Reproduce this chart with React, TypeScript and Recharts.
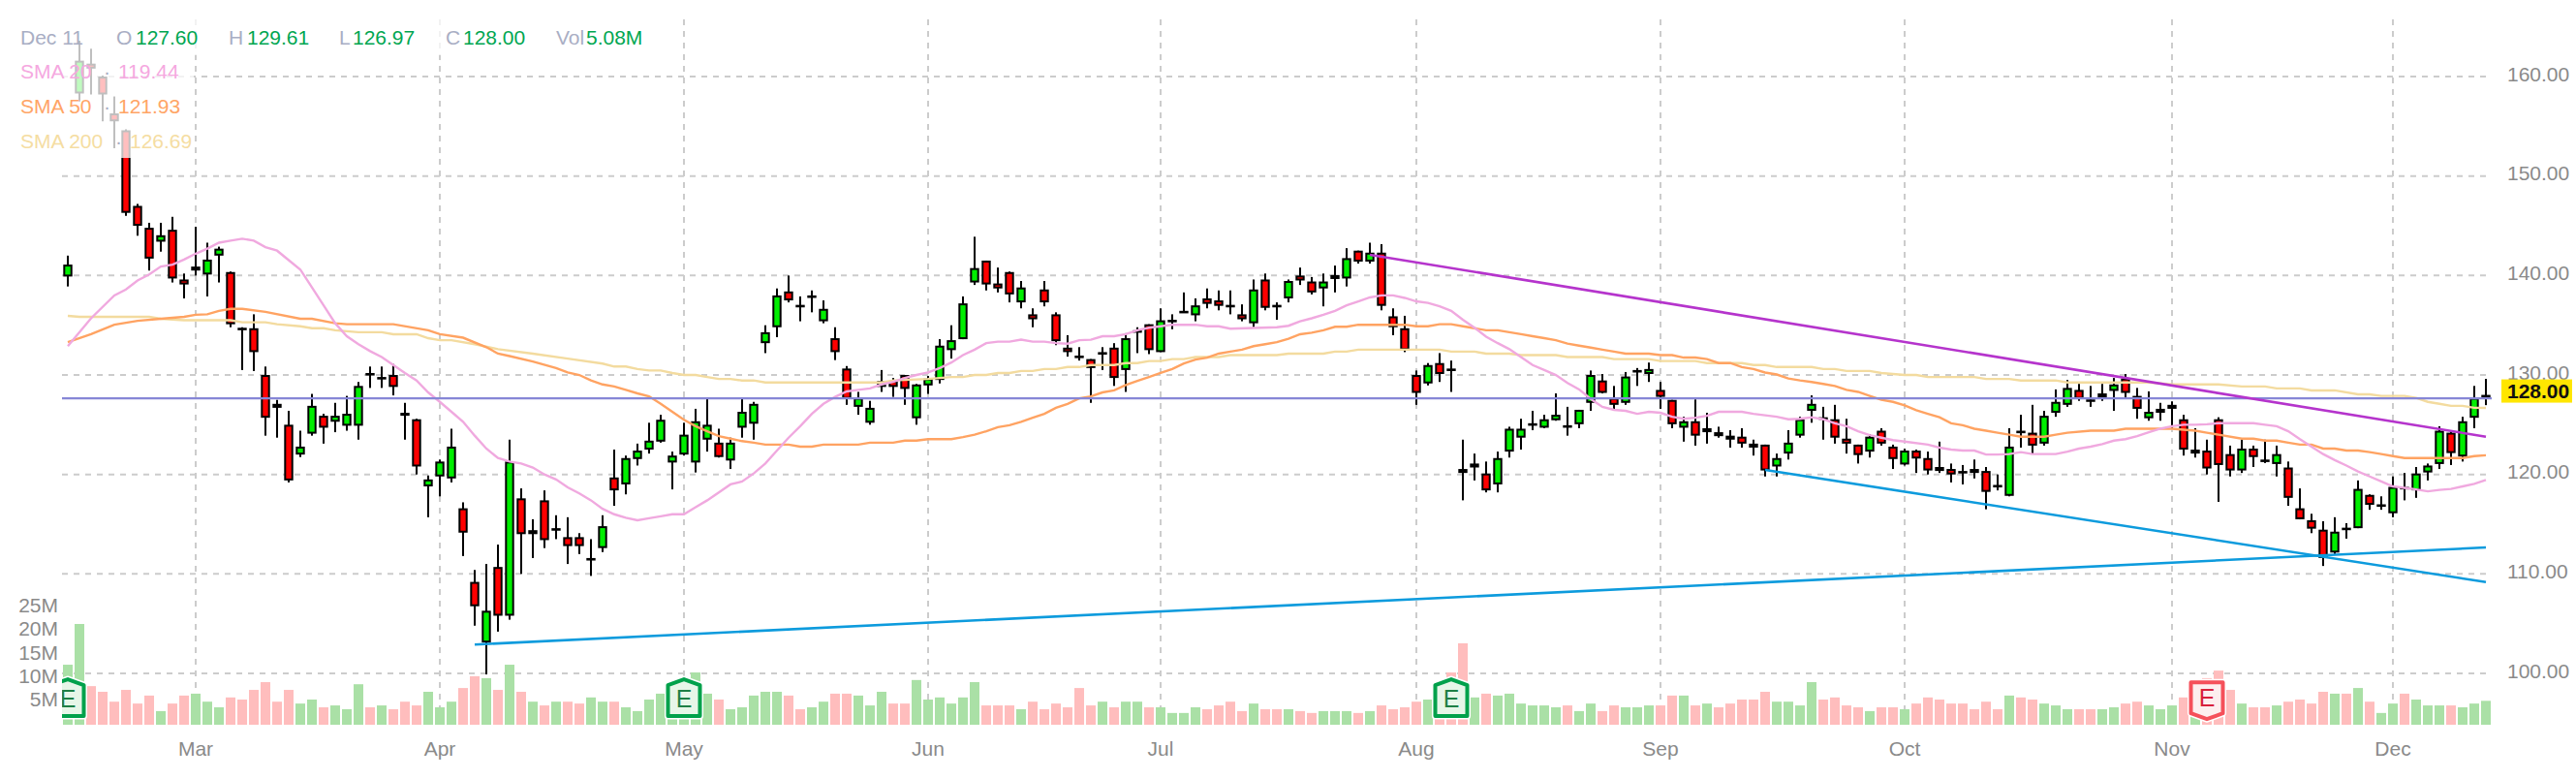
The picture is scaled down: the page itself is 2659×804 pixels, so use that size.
import React from "react";
import { ComposedChart, Bar, Line, XAxis, YAxis, CartesianGrid, ReferenceLine, ReferenceDot } from "recharts";

const open = [139.9,158.3,161.3,160.0,156.3,154.6,147.0,144.8,143.4,144.6,
139.6,140.5,140.1,142.0,140.35,134.75,134.7,130.0,127.1,125.0,
122.0,124.1,125.9,125.3,124.9,124.9,130.2,129.7,130.0,126.2,
125.55,118.8,119.8,119.6,116.6,109.2,103.1,110.7,105.8,117.6,
114.0,117.4,114.4,113.7,113.7,111.4,112.6,119.7,119.0,121.55,
122.5,123.3,121.2,122.0,121.2,123.5,123.2,121.4,124.7,125.1,
133.2,134.8,138.4,137.05,137.8,135.4,133.7,130.65,126.8,125.2,
128.8,129.4,130.0,125.65,128.95,129.5,132.5,133.6,139.3,141.5,
139.2,140.35,137.3,136.1,138.6,136.1,132.75,131.95,131.6,132.1,
132.75,130.5,134.3,135.1,132.3,135.45,136.35,136.0,137.7,137.5,
137.05,136.1,135.2,139.6,137.05,137.7,140.0,139.4,138.7,139.65,
139.7,142.5,141.4,142.3,135.9,134.7,130.0,129.15,131.2,130.65,
120.55,120.7,120.1,119.0,122.3,123.7,125.05,124.7,125.45,124.95,
125.05,127.2,129.45,127.7,127.2,130.4,130.1,128.5,127.5,124.7,
125.35,124.25,124.25,123.9,123.8,123.1,123.0,120.8,122.1,123.9,
126.4,125.75,125.55,123.6,123.0,122.3,124.4,122.8,121.0,122.4,
121.65,120.75,120.55,120.35,120.55,120.35,118.95,117.85,124.4,124.2,
123.1,126.2,127.0,128.5,127.55,127.75,128.4,129.65,127.9,125.65,
126.2,126.6,125.55,122.1,122.4,125.55,122.05,120.4,122.6,121.5,
121.05,120.7,116.6,115.4,114.45,112.15,114.65,114.6,117.95,116.9,
116.1,118.75,118.4,120.2,121.05,124.2,121.8,125.7,127.8];

const close = [141.1,161.6,160.8,158.2,155.5,146.3,145.0,141.7,144.05,139.7,
139.1,140.9,141.6,142.7,135.1,134.65,132.3,125.7,126.7,119.4,
122.8,126.9,124.7,125.9,126.1,128.9,130.0,129.8,128.8,125.9,
120.8,119.5,121.3,122.8,114.15,106.75,106.3,105.8,121.3,114.0,
114.4,113.4,114.6,112.8,112.8,111.6,114.8,118.4,121.65,122.4,
123.4,125.5,121.9,124.0,125.35,125.0,121.75,123.2,126.3,127.1,
134.3,138.0,137.5,136.95,138.0,136.65,132.3,127.6,127.7,126.7,
129.4,128.8,128.6,129.05,129.65,132.95,133.5,137.2,140.75,139.1,
138.7,138.1,138.8,135.6,137.3,133.4,132.3,131.85,130.7,132.3,
129.7,133.7,134.5,132.5,135.5,135.55,136.45,137.0,137.15,136.95,
136.95,135.6,138.6,136.75,136.95,139.45,139.5,138.3,139.4,140.05,
141.75,141.4,142.3,136.95,134.8,132.5,128.2,131.0,130.1,130.55,
120.15,121.1,118.4,121.65,124.6,124.6,125.15,125.55,126.0,124.85,
126.5,130.0,128.2,127.0,129.85,130.5,130.6,127.8,125.05,125.35,
123.9,124.65,123.85,123.5,123.1,122.7,120.4,121.65,123.2,125.55,
127.1,125.65,123.7,123.1,121.95,123.8,123.1,121.55,122.4,121.6,
120.4,120.35,120.0,120.25,120.15,118.25,118.85,122.8,124.3,122.9,
125.9,127.3,128.7,127.6,127.45,128.15,129.05,128.2,126.6,126.3,
126.6,127.0,122.5,122.5,120.6,120.95,120.4,122.6,121.75,121.4,
122.05,117.65,115.5,114.55,111.6,114.25,114.55,118.55,116.95,117.0,
118.75,118.65,120.1,120.9,124.4,122.15,125.35,127.7,128.0];

const high = [142.0,163.6,162.8,160.1,158.0,154.7,147.2,145.3,145.3,145.9,
140.2,144.9,143.3,142.9,140.4,134.8,136.1,130.85,127.5,126.4,
124.4,128.1,126.1,127.2,127.9,129.3,130.85,130.85,131.1,127.2,
125.6,119.9,121.5,124.6,117.2,110.4,111.0,112.95,123.5,118.6,
115.5,118.4,115.9,115.7,114.1,113.5,115.9,122.5,121.9,123.1,
125.2,126.0,122.3,125.2,126.6,127.7,124.6,123.7,127.7,127.3,
135.0,138.7,140.0,137.9,138.5,137.5,134.8,130.9,128.3,127.4,
130.5,129.7,130.0,129.1,129.9,133.6,135.0,137.9,143.9,141.5,
140.8,140.4,139.45,136.7,139.45,136.3,134.0,132.8,131.6,132.8,
133.2,134.2,134.8,135.1,136.7,136.1,138.3,137.7,138.7,138.5,
138.5,137.1,139.6,140.2,137.3,139.6,140.8,139.85,140.2,141.0,
142.75,142.5,143.3,143.15,136.7,135.95,130.45,131.2,132.2,131.45,
123.5,122.1,121.3,122.3,124.8,125.6,126.4,126.0,128.15,126.8,
126.5,130.45,130.1,128.9,130.3,130.7,131.25,129.3,127.5,125.8,
127.55,126.2,124.8,124.45,124.65,123.5,123.0,122.1,124.45,125.8,
127.95,126.8,127.0,125.6,123.0,124.05,124.65,123.0,122.6,122.5,
122.3,123.3,121.1,120.95,121.5,120.75,120.0,124.65,126.0,127.0,
126.4,128.55,129.5,129.1,128.9,129.1,129.7,130.1,128.7,128.35,
127.2,127.35,126.0,124.65,123.5,125.75,122.9,123.5,122.9,123.5,
122.9,121.3,118.6,116.05,115.3,115.7,115.1,119.4,118.0,117.8,
119.8,120.15,120.75,121.1,124.85,124.45,125.8,128.9,129.61];

const low = [138.9,157.5,158.2,155.5,152.8,146.0,144.0,140.5,142.4,139.3,
137.7,140.0,137.9,139.3,134.8,130.5,130.4,123.9,123.7,119.2,
121.75,123.9,123.1,124.25,124.4,123.5,128.7,128.7,127.95,123.5,
120.0,115.7,117.8,119.2,111.8,104.8,99.9,104.2,105.4,110.0,
111.6,112.6,113.5,111.0,112.0,109.8,112.2,116.85,118.0,120.9,
122.1,123.2,118.5,121.9,120.2,122.3,121.7,120.55,123.7,123.5,
132.2,133.8,137.3,135.4,136.3,135.2,131.5,127.0,126.0,125.0,
128.3,127.8,127.0,125.0,128.1,129.15,131.65,133.6,139.05,138.5,
138.3,137.3,136.7,134.8,136.9,133.0,131.85,131.45,127.2,130.5,
128.9,128.3,132.2,132.1,132.3,134.6,136.3,135.4,136.7,136.5,
136.1,135.4,134.8,136.5,135.55,137.3,139.05,138.1,136.9,138.3,
138.9,141.2,141.2,136.5,134.0,132.3,127.0,128.95,129.3,128.3,
117.4,119.4,118.2,118.2,121.7,122.5,124.45,124.65,125.4,123.9,
124.65,126.4,128.15,126.4,127.0,128.9,129.3,126.6,124.65,123.3,
122.9,123.1,123.7,122.7,122.7,121.9,119.8,119.8,121.5,123.7,
125.2,123.5,123.1,122.1,121.1,121.7,122.9,120.55,120.9,120.15,
120.0,120.15,119.2,119.0,119.6,116.5,118.4,117.8,122.7,122.1,
122.9,125.8,126.8,127.4,126.8,127.4,126.4,127.75,125.6,125.4,
125.4,124.65,121.9,121.7,120.0,117.25,119.8,120.15,120.75,121.15,
119.8,116.85,115.5,114.1,110.8,112.0,113.55,114.6,116.45,116.45,
115.7,117.4,117.65,119.4,120.55,120.95,121.3,124.65,126.97];

const volume = [12.75,21.4,8.2,7.0,4.9,7.4,4.5,6.2,2.9,4.5,
6.2,6.6,4.9,3.7,5.8,5.35,7.4,9.05,4.9,7.4,
4.5,5.35,3.7,4.1,3.3,8.6,3.7,4.1,3.3,4.9,
4.1,7.0,3.7,4.9,7.8,10.3,9.9,7.4,12.75,7.0,
4.9,4.1,4.9,4.9,4.5,5.8,4.9,4.9,3.7,2.9,
5.35,6.6,5.0,8.0,11.1,6.6,5.35,3.3,3.7,6.2,
7.0,7.0,6.2,3.3,3.7,4.9,6.6,6.6,6.2,4.1,
7.0,4.5,4.5,9.5,5.35,5.8,4.5,5.8,9.05,4.1,
4.1,4.1,3.3,4.9,3.3,4.5,3.7,7.8,4.1,4.9,
3.7,4.9,4.9,3.7,3.7,2.5,2.5,3.7,3.3,4.1,
4.9,2.9,4.5,3.3,3.3,3.3,2.9,2.5,2.9,2.9,
2.9,2.5,2.9,4.1,3.3,3.7,4.9,5.35,4.5,11.1,
17.3,5.8,6.6,6.2,6.6,4.5,4.1,4.1,3.7,4.1,
2.9,4.5,2.9,4.1,3.7,3.7,4.1,4.1,6.2,6.2,
4.1,4.5,3.7,4.5,5.35,5.35,7.0,4.9,4.9,4.1,
9.05,5.35,5.8,4.1,3.7,2.9,3.7,3.7,3.3,4.5,
5.8,5.35,4.5,4.5,3.3,4.9,3.3,6.2,5.8,5.35,
4.5,4.1,3.3,3.3,3.3,3.3,3.7,4.5,4.9,4.1,
3.3,4.1,5.8,4.1,9.9,11.5,7.4,4.5,3.7,3.7,
4.1,4.9,5.35,4.5,7.0,6.6,6.6,7.8,4.9,2.5,
4.5,6.6,5.35,4.1,4.1,4.1,3.7,4.5,5.08];

const sma20: [number, number][] = [[0,132.9],[2,135.7],[4,138.0],[5,138.6],[6,139.5],[7,140.1],[8,140.9],[9,141.1],[10,141.6],[11,142.2],[12,142.7],[13,143.3],[14,143.5],[15,143.7],[16,143.5],[17,142.85],[18,142.5],[19,141.55],[20,140.6],[21,138.8],[22,137.0],[23,135.2],[24,133.9],[25,133.1],[26,132.4],[27,131.8],[28,131.0],[29,130.2],[30,129.45],[31,128.25],[32,127.3],[33,126.3],[34,125.3],[35,123.9],[36,122.6],[37,121.65],[38,121.3],[39,121.1],[40,120.7],[41,120.0],[42,119.5],[43,118.7],[44,118.1],[45,117.4],[46,116.55],[47,116.0],[48,115.65],[49,115.4],[50,115.6],[51,115.8],[52,116.0],[53,116.0],[54,116.7],[55,117.4],[56,118.2],[57,119.0],[58,119.3],[59,120.1],[60,121.1],[61,122.4],[62,123.7],[63,124.85],[64,126.1],[65,127.1],[66,127.8],[67,128.35],[68,128.5],[69,128.65],[70,129.05],[71,129.3],[72,129.7],[73,130.0],[74,130.25],[75,130.7],[76,131.25],[77,132.0],[78,132.55],[79,133.2],[80,133.35],[81,133.35],[82,133.55],[83,133.35],[84,133.35],[85,133.2],[86,133.15],[87,133.5],[88,133.55],[89,133.9],[90,133.9],[91,134.1],[92,134.5],[93,134.75],[94,134.9],[95,135.05],[97,135.05],[98,134.9],[99,134.9],[100,134.65],[104,134.8],[105,134.95],[106,135.4],[107,135.7],[108,136.05],[109,136.45],[110,137.0],[111,137.4],[112,137.8],[113,138.0],[114,138.0],[115,137.75],[116,137.4],[117,137.25],[118,136.9],[119,136.45],[120,135.55],[121,134.75],[122,133.85],[123,133.2],[124,132.6],[125,131.8],[126,131.0],[127,130.5],[128,130.0],[129,129.2],[130,128.55],[131,127.6],[132,126.8],[133,126.5],[134,126.4],[135,126.1],[136,126.3],[137,126.2],[138,125.8],[139,125.6],[140,125.7],[141,125.9],[142,126.3],[144,126.3],[145,126.1],[146,125.95],[147,125.8],[148,125.55],[149,125.6],[150,125.75],[151,125.55],[152,125.15],[153,124.85],[154,124.35],[155,123.95],[156,123.7],[157,123.45],[158,123.3],[160,123.0],[161,122.7],[162,122.5],[163,122.4],[164,122.4],[165,122.0],[166,122.0],[167,122.05],[168,122.25],[169,122.05],[171,122.05],[172,122.3],[173,122.6],[174,122.8],[175,123.05],[176,123.4],[177,123.55],[178,123.85],[179,124.25],[180,124.6],[181,124.85],[182,125.0],[183,125.0],[184,125.05],[185,125.15],[188,125.15],[189,125.0],[190,124.85],[191,124.35],[192,123.55],[193,122.8],[194,122.05],[195,121.45],[196,120.9],[197,120.3],[198,119.8],[199,119.3],[200,118.8],[201,118.65],[202,118.5],[203,118.3],[204,118.45],[205,118.55],[206,118.8],[207,119.05],[208,119.44]];

const sma50: [number, number][] = [[0,133.3],[2,134.1],[4,135.05],[6,135.45],[8,135.65],[10,135.85],[11,136.05],[12,136.1],[13,136.45],[14,136.65],[15,136.65],[17,136.35],[20,135.65],[21,135.65],[23,135.2],[24,135.1],[28,135.1],[31,134.5],[32,134.1],[34,133.75],[36,132.8],[37,132.15],[38,131.9],[40,131.35],[42,130.7],[43,130.25],[44,130.0],[45,129.45],[46,129.05],[47,128.85],[48,128.5],[49,128.15],[50,127.85],[51,127.1],[52,126.3],[53,125.5],[54,124.85],[55,124.35],[56,123.85],[57,123.6],[58,123.35],[59,123.2],[60,123.0],[62,123.0],[63,122.8],[64,122.8],[65,123.0],[68,123.0],[69,123.2],[71,123.2],[72,123.4],[73,123.4],[74,123.55],[76,123.55],[77,123.75],[78,124.0],[79,124.35],[80,124.75],[81,124.95],[82,125.3],[83,125.7],[84,126.1],[85,126.7],[86,127.1],[87,127.65],[88,127.85],[89,128.25],[90,128.45],[91,129.0],[92,129.4],[93,129.8],[94,130.2],[95,130.6],[96,131.15],[97,131.55],[98,131.75],[99,132.15],[100,132.35],[101,132.55],[102,132.9],[103,133.1],[104,133.3],[105,133.65],[106,134.1],[107,134.25],[108,134.5],[109,134.85],[110,134.85],[111,135.05],[115,135.05],[116,134.9],[117,134.9],[118,135.1],[119,135.1],[120,134.9],[121,134.7],[122,134.5],[123,134.5],[124,134.3],[125,134.1],[126,133.9],[127,133.7],[128,133.5],[129,133.15],[130,132.95],[131,132.75],[132,132.55],[133,132.35],[134,132.15],[136,132.15],[137,132.0],[138,132.0],[139,131.75],[140,131.75],[141,131.6],[142,131.2],[143,131.2],[144,130.8],[145,130.6],[146,130.25],[147,130.05],[148,129.65],[149,129.45],[150,129.3],[151,129.1],[152,128.9],[153,128.5],[154,128.3],[155,127.9],[156,127.5],[157,127.3],[158,126.95],[159,126.45],[160,126.1],[161,125.75],[162,125.15],[163,124.95],[164,124.6],[165,124.4],[166,124.2],[167,124.0],[168,123.8],[170,123.8],[171,124.0],[172,124.2],[174,124.4],[176,124.4],[177,124.6],[181,124.6],[183,124.4],[184,124.2],[185,124.0],[187,123.6],[188,123.6],[189,123.4],[190,123.4],[191,123.2],[192,123.0],[193,123.0],[194,122.6],[195,122.6],[196,122.4],[197,122.4],[198,122.25],[199,122.05],[200,121.85],[201,121.65],[206,121.65],[207,121.85],[208,121.93]];

const sma200: [number, number][] = [[0,135.95],[1,135.85],[7,135.85],[8,135.65],[10,135.5],[14,135.5],[15,135.3],[17,135.3],[18,135.1],[20,134.9],[21,134.7],[22,134.7],[23,134.5],[25,134.3],[27,134.3],[28,134.1],[30,134.1],[31,133.7],[32,133.5],[33,133.5],[35,133.1],[37,132.6],[40,132.15],[43,131.65],[46,131.15],[47,130.85],[48,130.85],[49,130.6],[50,130.45],[51,130.45],[52,130.2],[53,130.0],[54,130.0],[55,129.8],[56,129.6],[57,129.6],[58,129.45],[59,129.45],[60,129.25],[70,129.25],[71,129.45],[74,129.6],[76,129.8],[77,129.8],[78,130.0],[79,130.0],[80,130.2],[81,130.2],[82,130.4],[83,130.4],[84,130.6],[85,130.6],[86,130.8],[87,130.8],[88,131.0],[90,131.0],[91,131.2],[92,131.2],[93,131.4],[94,131.4],[95,131.6],[96,131.6],[97,131.8],[99,131.8],[100,132.0],[104,132.0],[105,132.15],[108,132.15],[109,132.35],[110,132.35],[111,132.55],[118,132.55],[119,132.35],[121,132.35],[122,132.15],[124,132.15],[125,132.0],[128,132.0],[129,131.8],[132,131.8],[133,131.6],[136,131.6],[137,131.4],[140,131.4],[141,131.2],[144,131.2],[145,131.0],[146,131.0],[147,130.8],[150,130.8],[151,130.6],[152,130.6],[153,130.4],[155,130.4],[156,130.2],[158,130.0],[159,130.0],[160,129.8],[164,129.8],[165,129.6],[167,129.6],[168,129.45],[171,129.45],[172,129.25],[179,129.25],[181,129.05],[185,129.05],[187,128.85],[189,128.85],[190,128.65],[192,128.65],[193,128.45],[195,128.45],[197,128.05],[198,128.05],[199,127.9],[201,127.9],[202,127.7],[203,127.3],[204,127.1],[205,126.9],[206,126.9],[207,126.7],[208,126.69]];

const monthTicks = [11, 32, 53, 74, 94, 116, 137, 158, 181, 200];
const monthNames = ["Mar", "Apr", "May", "Jun", "Jul", "Aug", "Sep", "Oct", "Nov", "Dec"];
const priceTicks = [100, 110, 120, 130, 140, 150, 160, 128];
const priceGrid = [100, 110, 120, 130, 140, 150, 160];
const volumeTicks = [5, 10, 15, 20, 25];
const lastClose = 128;
const referencePrice = 127.65;
const earnings = [
  { i: 0, up: true },
  { i: 53, up: true },
  { i: 119, up: true },
  { i: 184, up: false },
];
const trendLines = [
  { from: [112, 142.08], to: [208, 123.8], color: "#B534CC" },
  { from: [35, 102.9], to: [208, 112.66], color: "#0D9BDD" },
  { from: [146, 120.45], to: [208, 109.18], color: "#0D9BDD" },
];

const lookup = (pairs: [number, number][]) => new Map(pairs);
const m20 = lookup(sma20);
const m50 = lookup(sma50);
const m200 = lookup(sma200);

const data = open.map((o, i) => ({
  i,
  o,
  c: close[i],
  h: high[i],
  l: low[i],
  range: [low[i], high[i]],
  v: volume[i],
  s20: m20.get(i) ?? null,
  s50: m50.get(i) ?? null,
  s200: m200.get(i) ?? null,
}));

const FONT = "'Liberation Sans', Arial, sans-serif";
const GREEN = "#00EE00";
const RED = "#FF0000";

function Candle(props: any) {
  const { x, y, width, height, payload } = props;
  const { o, c, h, l } = payload;
  const py = (p: number) => y + ((h - p) / (h - l)) * height;
  const cx = x + width / 2;
  const up = c >= o;
  const top = py(Math.max(o, c));
  const bot = py(Math.min(o, c));
  const bodyH = Math.max(bot - top, 2.6);
  const w = 9.4;
  return (
    <g>
      <rect x={cx - 1} y={y} width={2} height={height} fill="#000" />
      <rect x={cx - w / 2} y={top} width={w} height={bodyH} fill="#000" />
      {bodyH > 4.4 && (
        <rect x={cx - w / 2 + 2} y={top + 2} width={w - 4} height={bodyH - 4} fill={up ? GREEN : RED} />
      )}
    </g>
  );
}

function VolumeBar(props: any) {
  const { x, y, width, height, payload } = props;
  return <rect x={x} y={y} width={width} height={height} fill={payload.c >= payload.o ? "#AAE0A6" : "#FFBDBD"} />;
}

function Badge(props: any) {
  const { cx, cy, up } = props;
  const hw = 16.5;
  const hh = 19;
  const tip = 6;
  const pts = up
    ? [[-hw, -hh + tip], [0, -hh], [hw, -hh + tip], [hw, hh], [-hw, hh]]
    : [[-hw, -hh], [hw, -hh], [hw, hh - tip], [0, hh], [-hw, hh - tip]];
  const d = pts.map((p) => `${cx + p[0]},${cy + p[1]}`).join(" ");
  return (
    <g clipPath="url(#plotLeftClip)">
      <polygon points={d} fill="#fff" stroke="#fff" strokeWidth={7} strokeLinejoin="round" />
      <polygon points={d} fill={up ? "#E6F6E8" : "#FDEEEE"} stroke={up ? "#00A14B" : "#F5505A"} strokeWidth={4} strokeLinejoin="round" />
      <text x={cx} y={cy + (up ? 10 : 6)} textAnchor="middle" fontFamily={FONT} fontSize={25} fill={up ? "#1E7F45" : "#D8213B"}>E</text>
    </g>
  );
}

function PriceTick(props: any) {
  const { x, y, payload } = props;
  if (payload.value === lastClose) {
    return (
      <g>
        <rect x={x - 6} y={y - 16} width={73} height={24} fill="#FFE600" />
        <text x={x} y={y - 4} dy="0.36em" fontFamily={FONT} fontSize={21} fontWeight="bold" fill="#111">{lastClose.toFixed(2)}</text>
      </g>
    );
  }
  return <text x={x} y={y - 3} dy="0.36em" fontFamily={FONT} fontSize={21} fill="#8A8A8A">{payload.value.toFixed(2)}</text>;
}

const legend = [
  { t: "Dec 11", x: 21, row: 39, c: "#A9AEC4" },
  { t: "O", x: 120, row: 39, c: "#A9AEC4" },
  { t: "127.60", x: 140, row: 39, c: "#00A651" },
  { t: "H", x: 236, row: 39, c: "#A9AEC4" },
  { t: "129.61", x: 255, row: 39, c: "#00A651" },
  { t: "L", x: 350, row: 39, c: "#A9AEC4" },
  { t: "126.97", x: 364, row: 39, c: "#00A651" },
  { t: "C", x: 460, row: 39, c: "#A9AEC4" },
  { t: "128.00", x: 478, row: 39, c: "#00A651" },
  { t: "Vol", x: 574, row: 39, c: "#A9AEC4" },
  { t: "5.08M", x: 605, row: 39, c: "#00A651" },
  { t: "SMA 20", x: 21, row: 74, c: "#F5A8E0" },
  { t: "·", x: 107, row: 74, c: "#A9AEC4" },
  { t: "119.44", x: 122, row: 74, c: "#F5A8E0" },
  { t: "SMA 50", x: 21, row: 110, c: "#FFA566" },
  { t: "·", x: 107, row: 110, c: "#A9AEC4" },
  { t: "121.93", x: 122, row: 110, c: "#FFA566" },
  { t: "SMA 200", x: 21, row: 146, c: "#F5DDA2" },
  { t: "·", x: 119, row: 146, c: "#A9AEC4" },
  { t: "126.69", x: 134, row: 146, c: "#F5DDA2" },
];

export default function App() {
  return (
    <div style={{ position: "absolute", left: 0, top: 0, width: 2659, height: 804, background: "#fff", overflow: "hidden" }}>
      <ComposedChart width={2659} height={804} data={data} margin={{ top: 20, right: 0, bottom: 0, left: 0 }} barCategoryGap={1}>
        <defs>
          <clipPath id="plotLeftClip"><rect x={64} y={0} width={2600} height={804} /></clipPath>
        </defs>
        <XAxis
          xAxisId="x"
          dataKey="i"
          type="category"
          ticks={monthTicks}
          interval={0}
          height={56}
          axisLine={false}
          tickLine={false}
          tickSize={0}
          tickMargin={17}
          tick={{ fontFamily: FONT, fontSize: 21, fill: "#8A8A8A" }}
          tickFormatter={(v: number) => monthNames[monthTicks.indexOf(v)]}
        />
        <XAxis xAxisId="c" dataKey="i" type="category" hide height={0} />
        <YAxis
          yAxisId="v"
          orientation="left"
          width={64}
          domain={[0, 149.8]}
          ticks={volumeTicks}
          interval={0}
          axisLine={false}
          tickLine={false}
          tickSize={0}
          tickMargin={4}
          tick={{ fontFamily: FONT, fontSize: 21, fill: "#8A8A8A", dy: -2 }}
          tickFormatter={(v: number) => `${v}M`}
        />
        <YAxis
          yAxisId="p"
          orientation="right"
          width={87}
          domain={[94.84, 165.75]}
          ticks={priceTicks}
          interval={0}
          axisLine={false}
          tickLine={false}
          tickSize={0}
          tickMargin={16}
          tick={<PriceTick />}
        />
        <CartesianGrid
          xAxisId="x"
          yAxisId="p"
          stroke="#CCCCCC"
          strokeWidth={2}
          strokeDasharray="6 6"
          horizontalValues={priceGrid}
          verticalValues={monthTicks}
          syncWithTicks
        />
        <Bar xAxisId="x" yAxisId="v" dataKey="v" barSize={10} shape={<VolumeBar />} isAnimationActive={false} />
        <Bar xAxisId="c" yAxisId="p" dataKey="range" barSize={10} shape={<Candle />} isAnimationActive={false} />
        <Line xAxisId="c" yAxisId="p" dataKey="s200" stroke="#F3DB9F" strokeWidth={2.4} dot={false} connectNulls activeDot={false} isAnimationActive={false} />
        <Line xAxisId="c" yAxisId="p" dataKey="s50" stroke="#FFA362" strokeWidth={2.4} dot={false} connectNulls activeDot={false} isAnimationActive={false} />
        <Line xAxisId="c" yAxisId="p" dataKey="s20" stroke="#F0A9DF" strokeWidth={2.4} dot={false} connectNulls activeDot={false} isAnimationActive={false} />
        <ReferenceLine xAxisId="c" yAxisId="p" y={referencePrice} stroke="#8686D6" strokeWidth={2.4} />
        {trendLines.map((t, k) => (
          <ReferenceLine
            key={k}
            xAxisId="c"
            yAxisId="p"
            segment={[{ x: t.from[0], y: t.from[1] }, { x: t.to[0], y: t.to[1] }]}
            stroke={t.color}
            strokeWidth={2.6}
            ifOverflow="visible"
          />
        ))}
        {earnings.map((e) => (
          <ReferenceDot
            key={e.i}
            xAxisId="x"
            yAxisId="v"
            x={e.i}
            y={e.up ? 5.76 : 5.1}
            ifOverflow="visible"
            shape={(p: any) => <Badge cx={p.cx} cy={p.cy} up={e.up} />}
          />
        ))}
      </ComposedChart>
      <div style={{ position: "absolute", left: 0, top: 0, width: 690, height: 57, background: "rgba(255,255,255,0.75)" }} />
      <div style={{ position: "absolute", left: 0, top: 57, width: 200, height: 106, background: "rgba(255,255,255,0.75)" }} />
      {legend.map((l, k) => (
        <span
          key={k}
          style={{
            position: "absolute",
            left: l.x,
            top: l.row - 12,
            lineHeight: "24px",
            fontFamily: FONT,
            fontSize: 21,
            color: l.c,
            whiteSpace: "nowrap",
          }}
        >
          {l.t}
        </span>
      ))}
    </div>
  );
}
